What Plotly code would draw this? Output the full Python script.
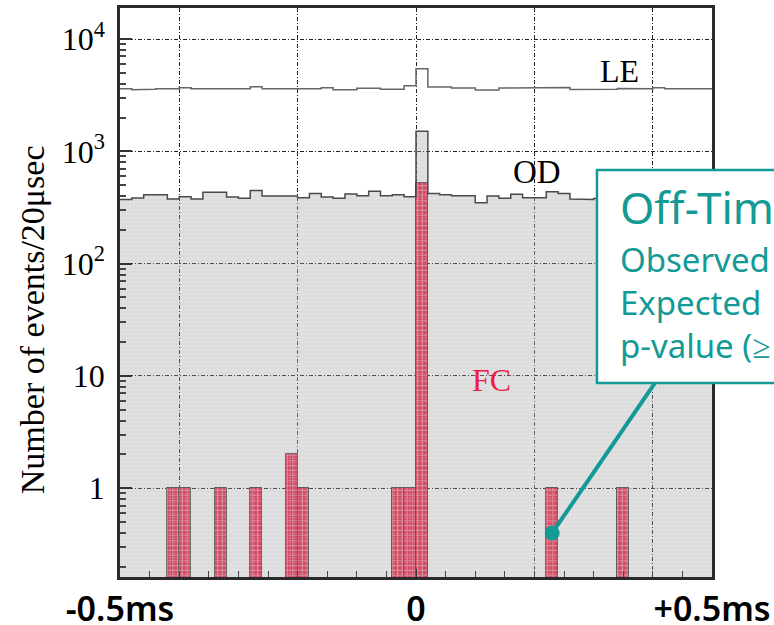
import numpy as np
import plotly.graph_objects as go

# ---------------- data ----------------
# 50 bins of 20 microseconds from -500 us to +500 us
bin_edges_us = np.arange(-500, 501, 20)
bin_centers_us = (bin_edges_us[:-1] + bin_edges_us[1:]) / 2

od_counts = [372, 384, 411, 411, 376, 395, 376, 432, 432, 392,
             382, 449, 400, 400, 400, 386, 422, 392, 382, 416,
             403, 440, 403, 411, 395, 1507, 422, 411, 403, 403,
             349, 400, 382, 414, 386, 386, 437, 422, 376, 372,
             380, 395, 385, 400, 390, 378, 392, 385, 398, 388]

le_counts = [3605, 3535, 3570, 3605, 3605, 3680, 3605, 3605, 3605, 3605,
             3605, 3760, 3605, 3605, 3605, 3605, 3605, 3680, 3535, 3535,
             3640, 3640, 3570, 3570, 3840, 5430, 3740, 3740, 3660, 3660,
             3515, 3515, 3660, 3660, 3660, 3660, 3660, 3700, 3560, 3580,
             3600, 3570, 3620, 3570, 3600, 3690, 3610, 3610, 3610, 3610]

fc_bin_centers_us = [-410, -390, -330, -270, -210, -190, -30, -10, 10, 230, 350]
fc_counts = [1, 1, 1, 1, 2, 1, 1, 1, 525, 1, 1]

x_tick_vals = [-500, 0, 500]
x_tick_text = ["-0.5ms", "0", "+0.5ms"]
x_grid_vals = [-400, -200, 200, 400]
y_tick_vals = [1, 10, 100, 1000, 10000]
y_tick_text = ["1", "10", "10<sup>2</sup>", "10<sup>3</sup>", "10<sup>4</sup>"]
y_minor_vals = [m * 10.0 ** k for k in range(-1, 5) for m in range(2, 10)]

label_le = "LE"
label_od = "OD"
label_fc = "FC"
y_title = "Number of events/20μsec"
box_title = "Off-Time"
box_body = "Observed<br>Expected<br>p-value (≥"

# pointer from a highlighted FC bin to the text box
pointer_x = [230, 404]
pointer_y = [0.4, 8.7]

TEAL = "#139a95"
RED = "#ee1c44"


def step_xy(edges, vals):
    xs, ys = [], []
    for i, v in enumerate(vals):
        xs += [edges[i], edges[i + 1]]
        ys += [v, v]
    return xs, ys


od_x, od_y = step_xy(bin_edges_us, od_counts)
le_x, le_y = step_xy(bin_edges_us, le_counts)

fig = go.Figure()

# OD filled histogram
fig.add_trace(go.Scatter(
    x=od_x + [bin_edges_us[-1], bin_edges_us[0]],
    y=od_y + [0.01, 0.01],
    mode="lines", fill="toself", line=dict(width=0),
    fillcolor="rgba(150,150,150,0.34)",
    fillpattern=dict(shape="+", fgcolor="rgba(255,255,255,0.6)", size=4,
                     solidity=0.3, fillmode="overlay"),
    hoverinfo="skip", showlegend=False))
fig.add_trace(go.Scatter(x=od_x, y=od_y, mode="lines",
                         line=dict(color="#4a4a4a", width=1.5),
                         showlegend=False))

# FC bars
fig.add_trace(go.Bar(
    x=fc_bin_centers_us, y=fc_counts, width=20,
    marker=dict(color=RED, line=dict(color="#333333", width=1),
                pattern=dict(shape="+", fgcolor="rgba(255,255,255,0.8)",
                             size=5, solidity=0.3, fillmode="overlay")),
    showlegend=False))

# LE outline
fig.add_trace(go.Scatter(x=le_x, y=le_y, mode="lines",
                         line=dict(color="#666666", width=1.5),
                         showlegend=False))

# pointer line + dot
fig.add_trace(go.Scatter(x=pointer_x, y=pointer_y, mode="lines",
                         line=dict(color=TEAL, width=4), showlegend=False))
fig.add_trace(go.Scatter(x=pointer_x[:1], y=pointer_y[:1], mode="markers",
                         marker=dict(color=TEAL, size=15), showlegend=False))
# invisible trace on the overlay axis that carries the extra vertical grid lines
fig.add_trace(go.Scatter(x=pointer_x[:1], y=pointer_y[:1], mode="markers",
                         marker=dict(opacity=0), xaxis="x2", yaxis="y",
                         hoverinfo="skip", showlegend=False))

grid_dash = "4px,2px,1px,2px"
fig.update_layout(
    xaxis=dict(
        range=[-500, 500], tickvals=x_tick_vals, ticktext=x_tick_text,
        ticks="inside", ticklen=8, tickcolor="#333", tickwidth=1,
        showgrid=True, gridcolor="#222", gridwidth=1, griddash=grid_dash,
        minor=dict(dtick=50, tick0=0, ticks="inside", ticklen=6, tickcolor="#444", showgrid=False),
        showline=True, linecolor="#2a2a2a", linewidth=2.5, mirror=True,
        zeroline=False, automargin=False,
        tickfont=dict(family="Noto Sans", size=34, color="black", weight=600),
    ),
    xaxis2=dict(
        range=[-500, 500], overlaying="x", anchor="y", side="bottom",
        tickvals=x_grid_vals, showticklabels=False, ticks="",
        showgrid=True, gridcolor="#222", gridwidth=1, griddash=grid_dash,
        showline=False, zeroline=False, automargin=False,
    ),
    yaxis=dict(
        type="log", range=[-0.79, 4.276], tickvals=y_tick_vals, ticktext=y_tick_text,
        ticks="inside", ticklen=12, tickcolor="#333", tickwidth=1.5,
        showgrid=True, gridcolor="#222", gridwidth=1, griddash=grid_dash,
        minor=dict(tickvals=y_minor_vals, ticks="inside", ticklen=6, tickcolor="#444", showgrid=False),
        showline=True, linecolor="#2a2a2a", linewidth=2.5, mirror=True,
        zeroline=False, ticklabelstandoff=6, automargin=False,
        tickfont=dict(family="Liberation Serif", size=32, color="black"),
    ),
)

annotations = [
    dict(x=343, y=np.log10(5200), xref="x", yref="y", text=label_le, showarrow=False,
         font=dict(family="Liberation Serif", size=32, color="black")),
    dict(x=204, y=np.log10(660), xref="x", yref="y", text=label_od, showarrow=False,
         font=dict(family="Liberation Serif", size=33, color="black")),
    dict(x=128, y=np.log10(9.2), xref="x", yref="y", text=label_fc, showarrow=False,
         font=dict(family="Liberation Serif", size=32, color=RED)),
    dict(x=-0.148, y=0.452, xref="paper", yref="paper", text=y_title, textangle=-90,
         xanchor="center", yanchor="middle",
         showarrow=False, font=dict(family="Liberation Serif", size=34, color="black")),
    dict(x=0.841, y=0.650, xref="paper", yref="paper", text=box_title,
         xanchor="left", yanchor="middle", showarrow=False,
         font=dict(family="Noto Sans", size=44, color=TEAL)),
    dict(x=0.841, y=0.482, xref="paper", yref="paper", text=box_body, align="left",
         xanchor="left", yanchor="middle", showarrow=False,
         font=dict(family="Noto Sans", size=33, color=TEAL)),
]

fig.update_layout(
    width=774, height=625,
    margin=dict(l=120, r=62, t=8, b=48, autoexpand=False),
    paper_bgcolor="white", plot_bgcolor="white",
    showlegend=False, bargap=0,
    annotations=annotations,
    shapes=[dict(type="rect", xref="paper", yref="paper",
                 x0=0.8057, x1=1.25, y0=0.341, y1=0.7153,
                 line=dict(color=TEAL, width=2.5), fillcolor="white", layer="above")],
)

fig.write_html(
    "out.html",
    config={"displayModeBar": False},
    post_script="document.body.style.margin='0px';document.body.style.overflow='hidden';",
)
